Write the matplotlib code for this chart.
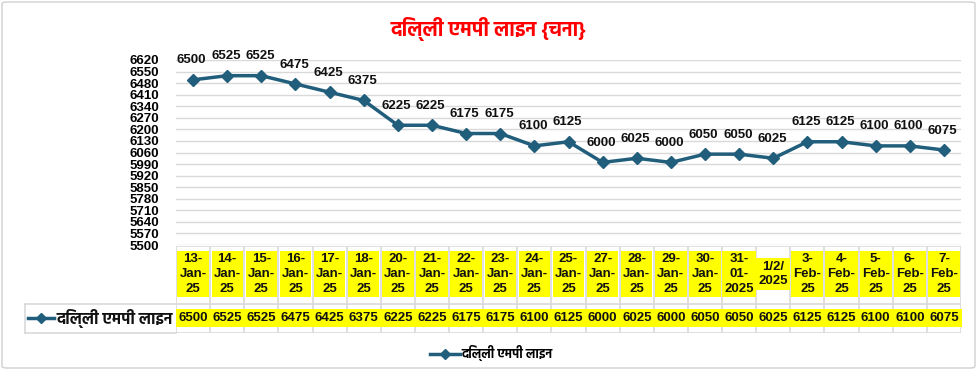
import matplotlib
matplotlib.use("Agg")
import matplotlib.pyplot as plt
from matplotlib.lines import Line2D
from matplotlib.patches import FancyBboxPatch
import numpy as np

# ---------------- data ----------------
title = "दिल्ली एमपी लाइन {चना}"
series_name = "दिल्ली एमपी लाइन"
dates = ["13-\nJan-\n25", "14-\nJan-\n25", "15-\nJan-\n25", "16-\nJan-\n25", "17-\nJan-\n25",
         "18-\nJan-\n25", "20-\nJan-\n25", "21-\nJan-\n25", "22-\nJan-\n25", "23-\nJan-\n25",
         "24-\nJan-\n25", "25-\nJan-\n25", "27-\nJan-\n25", "28-\nJan-\n25", "29-\nJan-\n25",
         "30-\nJan-\n25", "31-\n01-\n2025", "1/2/\n2025", "3-\nFeb-\n25", "4-\nFeb-\n25",
         "5-\nFeb-\n25", "6-\nFeb-\n25", "7-\nFeb-\n25"]
prices = [6500, 6525, 6525, 6475, 6425, 6375, 6225, 6225, 6175, 6175,
          6100, 6125, 6000, 6025, 6000, 6050, 6050, 6025, 6125, 6125,
          6100, 6100, 6075]
y_min, y_max, y_step = 5500, 6620, 70

# ---------------- style ----------------
W, H = 977, 371
LINE_C = "#215E7C"
GRID_C = "#D9D9D9"
NUM_FONT = "Liberation Sans"
DEV_FONT = ["Hind", "Noto Sans Devanagari", "DejaVu Sans"]
NUM_SIZE = 9.5

fig = plt.figure(figsize=(W / 100, H / 100), dpi=100)

def fx(px):
    return px / W

def fy(py):
    return 1 - py / H

# outer border
fig.patches.append(FancyBboxPatch((fx(2), fy(368)), fx(973), fy(2) - fy(368),
                                  boxstyle="round,pad=0,rounding_size=0.005",
                                  transform=fig.transFigure, facecolor="none",
                                  edgecolor="#D0D0D0", linewidth=1.0))

# main axes
ax_l, ax_r, ax_t, ax_b = 176, 961, 60, 245
ax = fig.add_axes([fx(ax_l), fy(ax_b), fx(ax_r - ax_l), fy(ax_t) - fy(ax_b)])
x = np.arange(len(prices))
ax.plot(x, prices, color=LINE_C, linewidth=2.5, marker="D", markersize=6,
        markerfacecolor=LINE_C, markeredgecolor=LINE_C, zorder=3)
ax.set_xlim(-0.5, len(prices) - 0.5)
ax.set_ylim(y_min, y_max)
ticks = np.arange(y_min, y_max + 1, y_step)
ax.set_yticks(ticks)
ax.set_yticklabels([str(v) for v in ticks], family=NUM_FONT, fontweight="bold",
                   fontsize=NUM_SIZE)
ax.tick_params(axis="y", length=0, pad=12)
ax.set_xticks([])
ax.grid(axis="y", color=GRID_C, linewidth=1.0)
ax.set_axisbelow(True)
for s in ax.spines.values():
    s.set_visible(False)

for xi, v in zip(x, prices):
    ax.annotate(str(v), (xi, v), xytext=(-1, 14), textcoords="offset points",
                ha="center", va="center", family=NUM_FONT, fontweight="bold",
                fontsize=NUM_SIZE, color="#111111", annotation_clip=False)

# title
fig.text(0.5, fy(29), title, ha="center", va="center", color="#FF0000",
         fontsize=14.5, fontweight="bold", family=DEV_FONT)

# ---------------- data table ----------------
t_top, t_mid, t_bot, t_left = 246, 304, 333, 25
tax = fig.add_axes([fx(ax_l), fy(t_bot), fx(ax_r - ax_l), fy(t_top) - fy(t_bot)], sharex=ax)
tax.set_ylim(t_bot - t_top, 0)
tax.axis("off")
n = len(prices)
tax.vlines(np.arange(-0.5, n), 0, t_bot - t_top, color=GRID_C, linewidth=1.2)
tax.hlines([0, t_mid - t_top, t_bot - t_top], -0.5, n - 0.5, color=GRID_C, linewidth=1.2)
# left part of value row (legend key)
fig.add_artist(Line2D([fx(t_left), fx(ax_l)], [fy(t_mid), fy(t_mid)], color=GRID_C, lw=1.2))
fig.add_artist(Line2D([fx(t_left), fx(ax_l)], [fy(t_bot), fy(t_bot)], color=GRID_C, lw=1.2))
fig.add_artist(Line2D([fx(t_left), fx(t_left)], [fy(t_mid), fy(t_bot)], color=GRID_C, lw=1.2))

for xi, d, v in zip(x, dates, prices):
    tax.text(xi, 28, d, ha="center", va="center", family=NUM_FONT, fontweight="bold",
             fontsize=NUM_SIZE, linespacing=1.32, color="#111111",
             bbox=dict(facecolor="#FFFF00", edgecolor="none", pad=1.5))
    tax.text(xi, t_bot - t_top - 15, str(v), ha="center", va="center", family=NUM_FONT,
             fontweight="bold", fontsize=NUM_SIZE, color="#111111",
             bbox=dict(facecolor="#FFFF00", edgecolor="none", pad=2.0))

# legend key inside table row
ky = fy(318)
fig.add_artist(Line2D([fx(28), fx(54)], [ky, ky], color=LINE_C, lw=2.5))
fig.add_artist(Line2D([fx(41)], [ky], color=LINE_C, marker="D", markersize=5, lw=0))
fig.text(fx(57), ky, series_name, ha="left", va="center", fontsize=11.5,
         fontweight="bold", family=DEV_FONT, color="#111111")

# bottom legend
h = Line2D([], [], color=LINE_C, lw=2.5, marker="D", markersize=5)
fig.legend([h], [series_name], loc="center", bbox_to_anchor=(fx(491), fy(353)),
           frameon=False, handlelength=2.4, handletextpad=0.1,
           prop=dict(family=DEV_FONT, size=9, weight="bold"))

fig.savefig("out.png", dpi=100)
